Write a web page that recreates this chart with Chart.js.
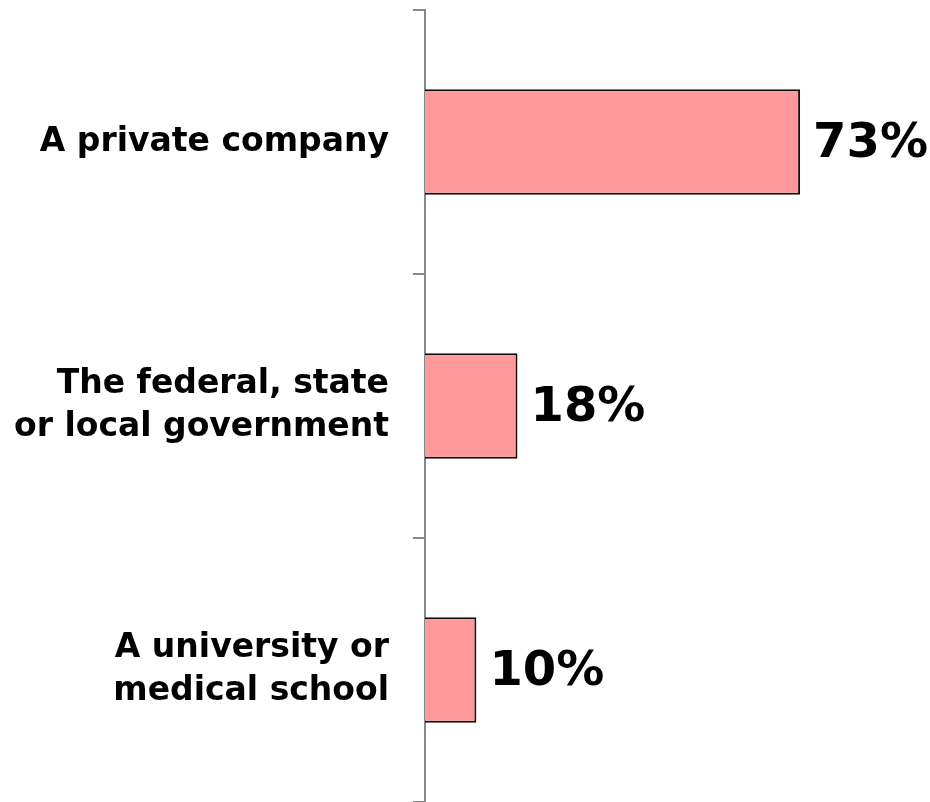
<!DOCTYPE html>
<html>
<head>
<meta charset="utf-8">
<script src="https://cdn.jsdelivr.net/npm/chart.js@4/dist/chart.umd.min.js"></script>
<style>
  html, body { margin: 0; padding: 0; background: #fff; }
  #wrap { width: 930px; height: 802px; position: relative; }
</style>
</head>
<body>
<div id="wrap"><canvas id="chart"></canvas></div>
<script>
const categories = [
    "A private company",
    ["The federal, state", "or local government"],
    ["A university or", "medical school"]
]
const values = [73, 18, 10]

// draws the "73%" style text right after each bar
const valueLabels = {
    id: "valueLabels",
    afterDatasetsDraw(chart) {
        const ctx = chart.ctx
        const meta = chart.getDatasetMeta(0)
        ctx.save()
        ctx.font = "bold 48px 'DejaVu Sans'"
        ctx.fillStyle = "#000"
        ctx.textAlign = "left"
        ctx.textBaseline = "middle"
        meta.data.forEach((bar, i) => {
            ctx.fillText(values[i] + "%", bar.x + 13, bar.y + 3)
        })
        ctx.restore()
    }
}

const ctx = document.querySelector("#chart")
const chart = new Chart(ctx, {
    type: "bar",
    data: {
        labels: categories,
        datasets: [{
            data: values,
            backgroundColor: "#ff9999",
            borderColor: "#111",
            borderWidth: 2,
            categoryPercentage: 1,
            barPercentage: 0.4
        }]
    },
    options: {
        indexAxis: "y",
        responsive: true,
        maintainAspectRatio: false,
        animation: false,
        layout: { padding: { top: 10, right: 4, bottom: 0, left: 0 } },
        plugins: {
            legend: { display: false },
            tooltip: { enabled: false }
        },
        scales: {
            x: {
                display: false,
                min: 0,
                max: 97.5
            },
            y: {
                offset: true,
                afterFit: (scale) => {
                    scale.width = 425
                    scale.paddingTop = 0
                    scale.paddingBottom = 0
                },
                border: { display: true, color: "#888", width: 2 },
                grid: {
                    offset: true,
                    drawOnChartArea: false,
                    drawTicks: true,
                    tickLength: 12,
                    color: "#888",
                    lineWidth: 2
                },
                ticks: {
                    padding: 24,
                    color: "#000",
                    font: { family: "'DejaVu Sans'", size: 33, weight: "bold", lineHeight: 1.3 }
                }
            }
        }
    },
    plugins: [valueLabels]
})
</script>
</body>
</html>
